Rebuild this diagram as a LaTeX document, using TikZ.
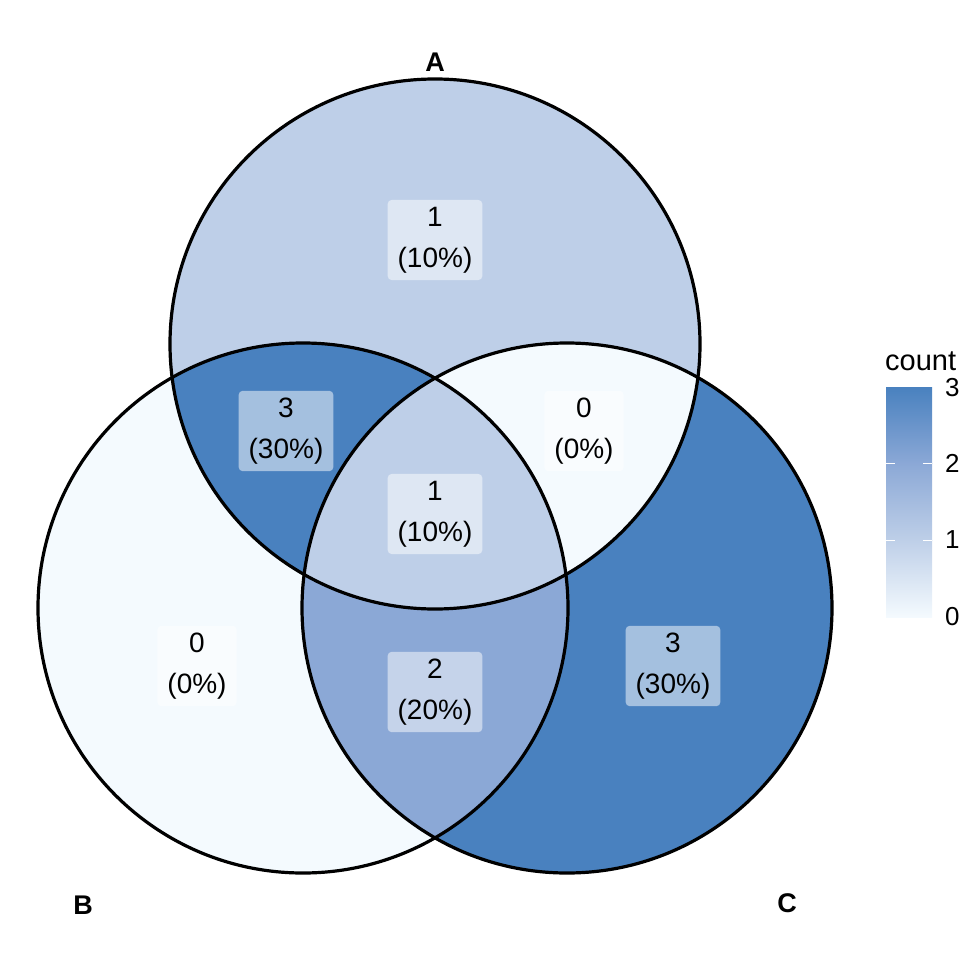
\documentclass[tikz,border=0pt]{standalone}
\usepackage{fontspec}
\setmainfont{Liberation Sans}
\usepackage{tikz}
\usetikzlibrary{positioning}
\definecolor{cnt0}{HTML}{F4FAFE}
\definecolor{cnt1}{HTML}{BECFE8}
\definecolor{cnt2}{HTML}{8BA8D6}
\definecolor{cnt3}{HTML}{4981BF}

\begin{document}
\begin{tikzpicture}[x=1pt, y=-1pt,
    ring/.style={draw=black, line width=3.2pt},
    cnt/.style={fill=white, fill opacity=0.5, text opacity=1, rounded corners=4pt,
                align=center, font=\fontsize{28}{41}\selectfont, inner xsep=10pt, inner ysep=7pt},
    setlab/.style={font=\fontsize{27}{30}\selectfont\bfseries},
    tick/.style={font=\fontsize{26}{28}\selectfont, anchor=west, inner xsep=0pt},
  ]
  \useasboundingbox (0,0) rectangle (960,960);
  \def\ca{(435,344) circle (265)}
  \def\cb{(303,608) circle (265)}
  \def\cc{(567,608) circle (265)}

  % regions
  \fill[cnt1] \ca;
  \fill[cnt0] \cb;
  \fill[cnt3] \cc;
  \begin{scope} \clip \ca; \fill[cnt3] \cb; \end{scope}
  \begin{scope} \clip \ca; \fill[cnt0] \cc; \end{scope}
  \begin{scope} \clip \cb; \fill[cnt2] \cc; \end{scope}
  \begin{scope} \clip \ca; \clip \cb; \fill[cnt1] \cc; \end{scope}
  \draw[ring] \ca;
  \draw[ring] \cb;
  \draw[ring] \cc;

  % counts
  \node[cnt] (rA)   at (435,240) {1\\(10\%)};
  \node[cnt] (rAB)  at (286,431) {3\\(30\%)};
  \node[cnt] (rAC)  at (584,431) {0\\(0\%)};
  \node[cnt] (rABC) at (435,514) {1\\(10\%)};
  \node[cnt] (rB)   at (197,666) {0\\(0\%)};
  \node[cnt] (rBC)  at (435,692) {2\\(20\%)};
  \node[cnt] (rC)   at (673,666) {3\\(30\%)};

  % set names
  \node[setlab] (lA) at (435,62) {A};
  \node[setlab] (lB) at (83,905) {B};
  \node[setlab] (lC) at (787,903) {C};

  % legend
  \shade[bottom color=cnt0, top color=cnt1] (886,617) rectangle (932,540);
  \shade[bottom color=cnt1, top color=cnt2] (886,540.5) rectangle (932,463);
  \shade[bottom color=cnt2, top color=cnt3] (886,463.5) rectangle (932,387);
  \foreach \yy in {540,463} {
    \draw[white, line width=1pt] (886,\yy) -- ++(9,0);
    \draw[white, line width=1pt] (932,\yy) -- ++(-9,0);
  }
  \node[anchor=base west, inner sep=0pt, font=\fontsize{29}{32}\selectfont] (ttl) at (885,370) {count};
  \node[tick] (t3) at (945,388) {3};
  \node[tick] (t2) at (945,463) {2};
  \node[tick] (t1) at (945,540) {1};
  \node[tick] (t0) at (945,617) {0};
\end{tikzpicture}
\end{document}
